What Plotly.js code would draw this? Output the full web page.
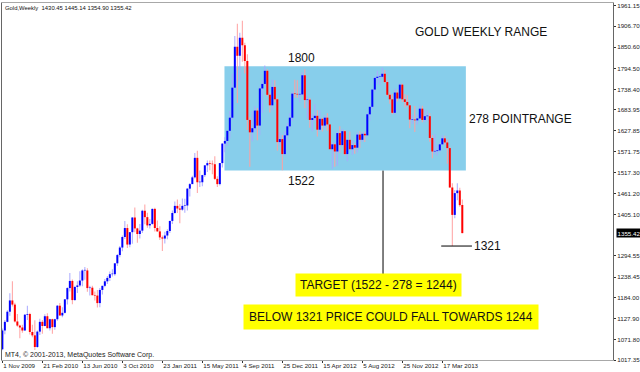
<!DOCTYPE html>
<html>
<head>
<meta charset="utf-8">
<script src="https://cdn.plot.ly/plotly-3.0.1.min.js"></script>
<style>html,body{margin:0;padding:0;background:#fff;}#chart{width:640px;height:372px;}</style>
</head>
<body>
<div id="chart"></div>
<script>
// ---- DATA (weekly gold candles) ----
const weeks = [
 '2009-11-01','2009-11-08','2009-11-15','2009-11-22','2009-11-29','2009-12-06','2009-12-13','2009-12-20','2009-12-27',
 '2010-01-03','2010-01-10','2010-01-17','2010-01-24','2010-01-31','2010-02-07','2010-02-14','2010-02-21','2010-02-28','2010-03-07','2010-03-14','2010-03-21','2010-03-28','2010-04-04','2010-04-11','2010-04-18','2010-04-25','2010-05-02','2010-05-09','2010-05-16','2010-05-23','2010-05-30','2010-06-06','2010-06-13','2010-06-20','2010-06-27','2010-07-04','2010-07-11','2010-07-18','2010-07-25','2010-08-01','2010-08-08','2010-08-15','2010-08-22','2010-08-29','2010-09-05','2010-09-12','2010-09-19','2010-09-26','2010-10-03','2010-10-10','2010-10-17','2010-10-24','2010-10-31','2010-11-07','2010-11-14','2010-11-21','2010-11-28','2010-12-05','2010-12-12','2010-12-19','2010-12-26',
 '2011-01-02','2011-01-09','2011-01-16','2011-01-23','2011-01-30','2011-02-06','2011-02-13','2011-02-20','2011-02-27','2011-03-06','2011-03-13','2011-03-20','2011-03-27','2011-04-03','2011-04-10','2011-04-17','2011-04-24','2011-05-01','2011-05-08','2011-05-15','2011-05-22','2011-05-29','2011-06-05','2011-06-12','2011-06-19','2011-06-26','2011-07-03','2011-07-10','2011-07-17','2011-07-24','2011-07-31','2011-08-07','2011-08-14','2011-08-21','2011-08-28','2011-09-04','2011-09-11','2011-09-18','2011-09-25','2011-10-02','2011-10-09','2011-10-16','2011-10-23','2011-10-30','2011-11-06','2011-11-13','2011-11-20','2011-11-27','2011-12-04','2011-12-11','2011-12-18','2011-12-25',
 '2012-01-01','2012-01-08','2012-01-15','2012-01-22','2012-01-29','2012-02-05','2012-02-12','2012-02-19','2012-02-26','2012-03-04','2012-03-11','2012-03-18','2012-03-25','2012-04-01','2012-04-08','2012-04-15','2012-04-22','2012-04-29','2012-05-06','2012-05-13','2012-05-20','2012-05-27','2012-06-03','2012-06-10','2012-06-17','2012-06-24','2012-07-01','2012-07-08','2012-07-15','2012-07-22','2012-07-29','2012-08-05','2012-08-12','2012-08-19','2012-08-26','2012-09-02','2012-09-09','2012-09-16','2012-09-23','2012-09-30','2012-10-07','2012-10-14','2012-10-21','2012-10-28','2012-11-04','2012-11-11','2012-11-18','2012-11-25','2012-12-02','2012-12-09','2012-12-16','2012-12-23','2012-12-30',
 '2013-01-06','2013-01-13','2013-01-20','2013-01-27','2013-02-03','2013-02-10','2013-02-17','2013-02-24','2013-03-03','2013-03-10','2013-03-17','2013-03-24','2013-03-31','2013-04-07','2013-04-14','2013-04-21','2013-04-28','2013-05-05','2013-05-12'
];
const opens = [
 1046,1096,1119,1146,1176,1165,1120,1109,1104,
 1096,1138,1140,1092,1083,1052,1093,1119,1108,1134,1102,1126,1105,1126,1162,1136,1143,1179,1209,1228,1177,1212,1216,1229,1256,1256,1209,1210,1190,1189,1169,1204,1215,1227,1236,1246,1246,1275,1297,1317,1345,1369,1325,1358,1397,1368,1353,1362,1415,1398,1376,1380,
 1420,1369,1360,1344,1341,1349,1361,1388,1409,1428,1421,1418,1428,1429,1474,1486,1504,1556,1491,1491,1510,1536,1542,1540,1539,1500,1486,1542,1594,1601,1628,1663,1743,1852,1828,1876,1856,1814,1657,1624,1635,1682,1642,1741,1753,1788,1724,1696,1745,1712,1598,1606,
 1566,1616,1640,1663,1727,1726,1725,1725,1776,1710,1711,1657,1662,1668,1631,1660,1642,1663,1645,1579,1592,1573,1622,1590,1627,1566,1604,1579,1590,1583,1618,1604,1620,1616,1672,1692,1738,1769,1772,1772,1780,1758,1724,1712,1676,1730,1714,1751,1712,1705,1696,1658,1658,
 1656,1661,1687,1657,1667,1667,1609,1573,1574,1576,1592,1608,1597,1582,1477,1404,1462,1469,1430.45
];
const highs = [
 1101,1124,1150,1195,1227,1170,1140,1111,1111,
 1140,1162,1143,1111,1123,1096,1127,1124,1139,1142,1127,1127,1127,1164,1169,1158,1180,1211,1249,1232,1215,1227,1254,1259,1265,1262,1215,1215,1200,1204,1209,1215,1233,1241,1253,1259,1275,1300,1321,1349,1388,1379,1358,1398,1424,1370,1380,1418,1432,1410,1393,1421,
 1423,1389,1374,1349,1359,1366,1388,1416,1440,1445,1433,1448,1447,1475,1489,1508,1569,1575,1522,1511,1537,1549,1549,1549,1560,1507,1542,1595,1611,1628,1681,1780,1881,1913,1889,1921,1863,1832,1664,1681,1694,1689,1746,1764,1802,1792,1730,1764,1763,1715,1625,1617,
 1627,1649,1675,1732,1764,1763,1745,1785,1792,1720,1716,1673,1699,1683,1682,1663,1670,1675,1645,1597,1595,1626,1640,1633,1630,1605,1626,1602,1596,1624,1627,1624,1626,1675,1692,1740,1773,1788,1779,1796,1790,1763,1731,1726,1740,1738,1755,1754,1726,1723,1697,1670,1694,
 1672,1696,1695,1685,1682,1675,1617,1619,1590,1596,1616,1615,1605,1586,1488,1470,1488,1476,1445.14
];
const lows = [
 1043,1086,1118,1135,1160,1117,1106,1075,1090,
 1095,1124,1085,1078,1044,1050,1084,1087,1107,1102,1096,1087,1098,1122,1135,1131,1141,1165,1200,1166,1175,1196,1212,1214,1231,1199,1189,1190,1176,1157,1158,1192,1211,1220,1228,1240,1242,1268,1291,1307,1340,1316,1318,1327,1358,1330,1341,1356,1379,1370,1368,1378,
 1360,1359,1337,1308,1328,1339,1356,1380,1407,1409,1382,1415,1410,1416,1453,1486,1501,1462,1478,1480,1505,1518,1523,1512,1497,1478,1482,1530,1571,1588,1608,1657,1740,1702,1760,1812,1781,1630,1532,1600,1626,1603,1617,1676,1750,1720,1677,1682,1705,1575,1588,1523,
 1563,1602,1632,1654,1716,1716,1704,1721,1689,1660,1636,1627,1654,1613,1627,1626,1634,1628,1578,1527,1532,1535,1569,1585,1563,1547,1576,1564,1567,1570,1582,1598,1598,1612,1654,1687,1732,1752,1750,1768,1755,1720,1700,1672,1672,1706,1713,1705,1690,1693,1635,1646,1625,
 1645,1660,1651,1651,1654,1599,1555,1565,1562,1572,1590,1591,1540,1476,1321,1395,1443,1426,1354.90
];
const closes = [
 1096,1119,1146,1176,1165,1120,1109,1104,1096,
 1138,1140,1092,1083,1052,1093,1119,1108,1134,1102,1126,1105,1126,1162,1136,1143,1179,1209,1228,1177,1212,1216,1229,1256,1256,1209,1210,1190,1189,1169,1204,1215,1227,1236,1246,1246,1275,1297,1317,1345,1369,1325,1358,1397,1368,1353,1362,1415,1398,1376,1380,1420,
 1369,1360,1344,1341,1349,1361,1388,1409,1428,1421,1418,1428,1429,1474,1486,1504,1556,1491,1491,1510,1536,1542,1540,1539,1500,1486,1542,1594,1601,1628,1663,1743,1852,1828,1876,1856,1814,1657,1624,1635,1682,1642,1741,1753,1788,1724,1696,1745,1712,1598,1606,1566,
 1616,1640,1663,1727,1726,1725,1725,1776,1710,1711,1657,1662,1668,1631,1660,1642,1663,1645,1579,1592,1573,1622,1590,1627,1566,1604,1579,1590,1583,1618,1604,1620,1616,1672,1692,1738,1769,1772,1772,1780,1758,1724,1712,1676,1730,1714,1751,1712,1705,1696,1658,1658,1656,
 1661,1687,1657,1667,1667,1609,1573,1574,1576,1592,1608,1597,1582,1477,1404,1462,1469,1430,1355.42
];
const xTickVals = ['2009-11-01','2010-02-21','2010-06-13','2010-10-03','2011-01-23','2011-05-15','2011-09-04','2011-12-25','2012-04-15','2012-08-05','2012-11-25','2013-03-17'];
const xTickText = ['1 Nov 2009','21 Feb 2010','13 Jun 2010','3 Oct 2010','23 Jan 2011','15 May 2011','4 Sep 2011','25 Dec 2011','15 Apr 2012','5 Aug 2012','25 Nov 2012','17 Mar 2013'];
const yTickVals = [1961.15,1906.70,1850.60,1794.50,1738.40,1683.95,1627.85,1571.75,1517.30,1461.20,1405.10,1294.55,1238.45,1184.00,1127.90,1071.80,1017.35];
const yTickText = ['1961.15','1906.70','1850.60','1794.50','1738.40','1683.95','1627.85','1571.75','1517.30','1461.20','1405.10','1294.55','1238.45','1184.00','1127.90','1071.80','1017.35'];
const headerText = 'Gold,Weekly\u00a0 1430.45 1445.14 1354.90 1355.42';
const lastPrice = 1355.42;
const rangeTop = 1800, rangeBottom = 1522, targetLevel = 1244, supportLevel = 1321;

// ---- derived tables for the library ----
const up = opens.map((o,i) => closes[i] >= o);
const wickHeight = highs.map((h,i) => h - lows[i]);
const wickColor = up.map(u => u ? '#a9a9ff' : '#ffa0a0');
const bodyBase = opens.map((o,i) => Math.min(o, closes[i]));
const bodyHeight = opens.map((o,i) => Math.max(Math.abs(closes[i]-o), 1.5));
const bodyColor = up.map(u => u ? '#0000ff' : '#ff0000');

const smallFont = 'Liberation Sans, Arial, sans-serif';
const bigFont = 'Liberation Sans, Arial, sans-serif';
const PX = x => (x - 2) / 611;
const PY = y => 1 - (y - 3) / 357;
const DAY = 86400000;

const traces = [
  {type: 'bar', x: weeks, base: lows, y: wickHeight, width: 2.8 * DAY,
   marker: {color: wickColor, line: {width: 0}}, hoverinfo: 'skip', showlegend: false},
  {type: 'bar', x: weeks, base: bodyBase, y: bodyHeight, width: 5.6 * DAY,
   marker: {color: bodyColor, line: {width: 0}}, hoverinfo: 'skip', showlegend: false}
];

const lineStyle = {color: '#000', width: 1};
const layout = {
  width: 640, height: 372,
  margin: {l: 2, r: 27, t: 3, b: 12, pad: 0},
  paper_bgcolor: '#ffffff', plot_bgcolor: '#ffffff',
  showlegend: false, hovermode: false, barmode: 'overlay',
  xaxis: {
    type: 'date', range: ['2009-10-31', '2014-07-08'],
    tickmode: 'array', tickvals: xTickVals, ticktext: xTickText,
    ticks: 'outside', ticklen: 2, tickcolor: '#333', tickwidth: 1, tickangle: 0,
    ticklabelposition: 'outside right',
    tickfont: {family: smallFont, size: 6.2, color: '#222'},
    showgrid: false, zeroline: false,
    showline: true, linecolor: '#a8a8a8', linewidth: 1, mirror: true,
    fixedrange: true
  },
  yaxis: {
    side: 'right', range: [1017.35, 1968.6],
    tickmode: 'array', tickvals: yTickVals, ticktext: yTickText,
    ticks: 'outside', ticklen: 2, tickcolor: '#333', tickwidth: 1,
    tickfont: {family: smallFont, size: 6.2, color: '#222'},
    showgrid: false, zeroline: false,
    showline: true, linecolor: '#666', linewidth: 1, mirror: true,
    fixedrange: true
  },
  shapes: [
    {type: 'rect', xref: 'x', yref: 'y', x0: '2011-07-16', x1: '2013-05-22', y0: rangeBottom, y1: rangeTop,
     fillcolor: '#87ceeb', line: {width: 0}, layer: 'below'},
    {type: 'line', xref: 'x', yref: 'y', x0: '2012-10-02', x1: '2012-10-02', y0: rangeBottom, y1: targetLevel, line: lineStyle},
    {type: 'line', xref: 'x', yref: 'y', x0: '2012-06-29', x1: '2013-02-02', y0: targetLevel, y1: targetLevel, line: lineStyle},
    {type: 'line', xref: 'x', yref: 'y', x0: '2013-03-14', x1: '2013-06-08', y0: supportLevel, y1: supportLevel, line: lineStyle}
  ],
  annotations: [
    {text: headerText, xref: 'paper', yref: 'paper', x: PX(3), y: PY(8), xanchor: 'left', yanchor: 'middle',
     showarrow: false, font: {family: smallFont, size: 5.9, color: '#111'}},
    {text: 'GOLD WEEKLY RANGE', xref: 'paper', yref: 'paper', x: PX(481), y: PY(32), xanchor: 'center', yanchor: 'middle',
     showarrow: false, font: {family: bigFont, size: 12, color: '#111'}},
    {text: String(rangeTop), xref: 'paper', yref: 'paper', x: PX(301), y: PY(58), xanchor: 'center', yanchor: 'middle',
     showarrow: false, font: {family: bigFont, size: 12, color: '#111'}},
    {text: String(rangeBottom), xref: 'paper', yref: 'paper', x: PX(301), y: PY(181), xanchor: 'center', yanchor: 'middle',
     showarrow: false, font: {family: bigFont, size: 12, color: '#111'}},
    {text: '278 POINTRANGE', xref: 'paper', yref: 'paper', x: PX(467), y: PY(119), xanchor: 'left', yanchor: 'middle',
     showarrow: false, font: {family: bigFont, size: 12, color: '#111'}},
    {text: String(supportLevel), xref: 'paper', yref: 'paper', x: PX(472), y: PY(246), xanchor: 'left', yanchor: 'middle',
     showarrow: false, font: {family: bigFont, size: 12, color: '#111'}},
    {text: 'TARGET (1522 - 278 = 1244)', xref: 'paper', yref: 'paper', x: PX(378), y: PY(284.5), xanchor: 'center', yanchor: 'middle',
     showarrow: false, bgcolor: '#ffff00', borderpad: 4, font: {family: bigFont, size: 12, color: '#111'}},
    {text: 'BELOW 1321 PRICE COULD FALL TOWARDS 1244', xref: 'paper', yref: 'paper', x: PX(391), y: PY(317), xanchor: 'center', yanchor: 'middle',
     showarrow: false, bgcolor: '#ffff00', borderpad: 5, font: {family: bigFont, size: 12, color: '#111'}},
    {text: 'MT4, \u00a9 2001-2013, MetaQuotes Software Corp.', xref: 'paper', yref: 'paper', x: PX(3), y: PY(355), xanchor: 'left', yanchor: 'middle',
     showarrow: false, font: {family: smallFont, size: 7, color: '#222'}},
    {text: lastPrice.toFixed(2), xref: 'paper', yref: 'y', x: 1, y: lastPrice, xanchor: 'left', yanchor: 'middle', xshift: 3,
     showarrow: false, bgcolor: '#000000', borderpad: 0.5, font: {family: smallFont, size: 6.2, color: '#ffffff'}}
  ]
};

Plotly.newPlot('chart', traces, layout, {staticPlot: true, displayModeBar: false});
</script>
</body>
</html>
